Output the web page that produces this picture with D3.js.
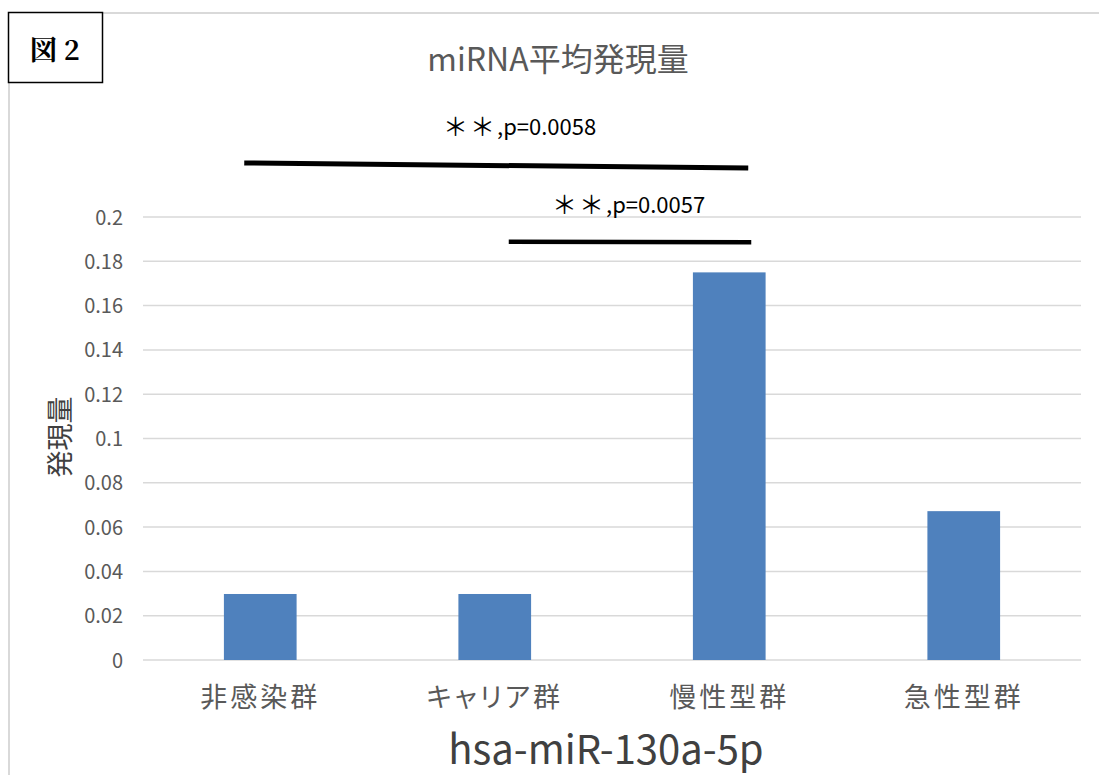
<!DOCTYPE html>
<html><head><meta charset="utf-8">
<script src="https://cdn.jsdelivr.net/npm/d3@7"></script>
<style>
html,body{margin:0;padding:0;background:#fff;}
svg{display:block;font-family:"Noto Sans CJK JP","Noto Sans",sans-serif;}
.palt{font-feature-settings:"palt";}
</style></head>
<body>
<script>
const categories = ["非感染群","キャリア群","慢性型群","急性型群"];
const values = [0.0298, 0.0298, 0.175, 0.0672];
const yTicks = [0,0.02,0.04,0.06,0.08,0.1,0.12,0.14,0.16,0.18,0.2];
const yTickLabels = ["0","0.02","0.04","0.06","0.08","0.1","0.12","0.14","0.16","0.18","0.2"];
const title = "miRNA平均発現量";
const yTitle = "発現量";
const xTitle = "hsa-miR-130a-5p";
const figLabel = "図 2";
// significance annotations
const sigFrom = ["非感染群","キャリア群"];
const sigTo = ["慢性型群","慢性型群"];
const sigY1 = [0.2244, 0.1888];
const sigY2 = [0.2221, 0.1886];
const sigStars = ["＊＊","＊＊"];
const sigLabels = [",p=0.0058",",p=0.0057"];
const sigLabelY = [0.2414, 0.2065];

const W=1099,H=775;
const svg=d3.select("body").append("svg").attr("width",W).attr("height",H);
const FONT="'Noto Sans CJK JP','Noto Sans',sans-serif";

// chart frame
svg.append("path").attr("d",`M9,775 L9,13 L1099,13`).attr("fill","none").attr("stroke","#d9d9d9").attr("stroke-width",2);

const x=d3.scaleBand().domain(categories).range([143,1081]).paddingInner(0.69).paddingOuter(0.345);
const y=d3.scaleLinear().domain([0,0.2]).range([660,217]);

// gridlines
svg.append("g").selectAll("line").data(yTicks).join("line")
 .attr("x1",143).attr("x2",1081).attr("y1",d=>y(d)).attr("y2",d=>y(d))
 .attr("stroke","#d9d9d9").attr("stroke-width",1.5);

// y axis labels
const yAxis=d3.axisLeft(y).tickValues(yTicks).tickFormat((d,i)=>yTickLabels[i]).tickSize(0).tickPadding(0);
const ga=svg.append("g").attr("transform","translate(123,0)").call(yAxis);
ga.select(".domain").remove();
ga.attr("font-size",null).attr("font-family",null);
ga.selectAll("text").attr("font-size",20).attr("fill","#595959").attr("font-family",FONT).attr("dy","0.35em");

// bars
svg.append("g").selectAll("rect").data(values).join("rect")
 .attr("x",(d,i)=>x(categories[i])).attr("width",x.bandwidth())
 .attr("y",d=>y(d)).attr("height",d=>y(0)-y(d)).attr("fill","#4f81bd");

// x axis labels
const xAxis=d3.axisBottom(x).tickSize(0).tickPadding(0);
const gx=svg.append("g").attr("transform","translate(0,698)").call(xAxis);
gx.select(".domain").remove();
gx.attr("font-size",null).attr("font-family",null);
gx.selectAll("text").attr("class","palt").attr("font-size",27).attr("fill","#595959").attr("font-family",FONT).attr("dy","0.35em").attr("letter-spacing","3px");

// title
svg.append("text").attr("x",558).attr("y",57).attr("text-anchor","middle").attr("dominant-baseline","central")
 .attr("font-size",32).attr("fill","#595959").text(title);

// y title
svg.append("text").attr("transform","translate(58,437) rotate(-90)").attr("text-anchor","middle").attr("dominant-baseline","central")
 .attr("font-size",27).attr("fill","#404040").text(yTitle);

// x title
svg.append("text").attr("x",606).attr("y",747).attr("text-anchor","middle").attr("dominant-baseline","central")
 .attr("font-size",40).attr("fill","#404040").text(xTitle);

// significance
const offL=[-16,14], offR=[19,22], lw=[5,4.5], lx=[443,552];
sigLabels.forEach((lab,i)=>{
  const x1=x(sigFrom[i])+x.bandwidth()/2+offL[i];
  const x2=x(sigTo[i])+x.bandwidth()/2+offR[i];
  svg.append("line").attr("x1",x1).attr("x2",x2).attr("y1",y(sigY1[i])).attr("y2",y(sigY2[i]))
    .attr("stroke","#000").attr("stroke-width",lw[i]);
  const t=svg.append("text").attr("x",lx[i]).attr("y",y(sigLabelY[i])).attr("dominant-baseline","central")
    .attr("font-size",22).attr("fill","#000");
  t.append("tspan").attr("font-size",25).attr("letter-spacing","2px").text(sigStars[i]);
  t.append("tspan").text(lab);
});

// figure label box
svg.append("rect").attr("x",8.5).attr("y",12.5).attr("width",94).attr("height",70).attr("fill","#fff").attr("stroke","#000").attr("stroke-width",1.5);
svg.append("text").attr("x",55).attr("y",48).attr("text-anchor","middle").attr("dominant-baseline","central")
 .attr("font-size",27).attr("font-weight","bold").attr("font-family","'Noto Serif CJK JP','Noto Sans CJK JP',serif").attr("fill","#000").text(figLabel);
</script>
</body></html>
